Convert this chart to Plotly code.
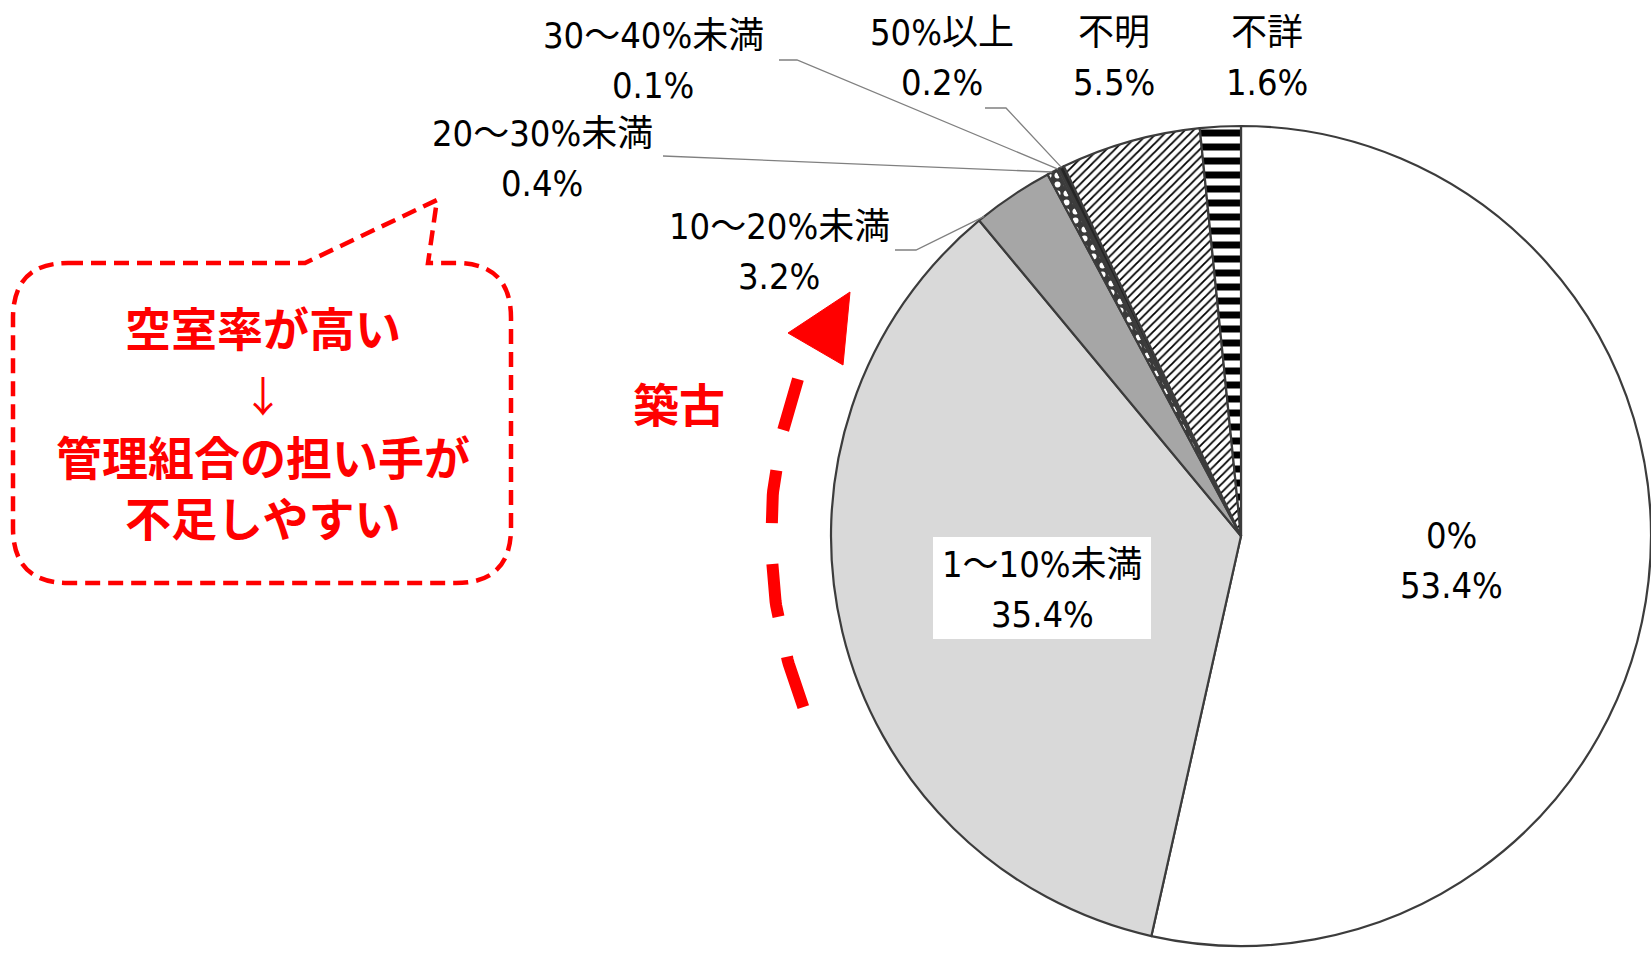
import math
import numpy as np
import plotly.graph_objects as go

W, H = 1651, 953

# ---------------- data ----------------
categories = ["0%", "1～10%未満", "10～20%未満", "20～30%未満",
              "30～40%未満", "50%以上", "不明", "不詳"]
shares = [53.4, 35.4, 3.2, 0.4, 0.1, 0.2, 5.5, 1.6]

slice_colors = ["#ffffff", "#d9d9d9", "#a6a6a6", "#3a3a3a",
                "#555555", "#262626", "#ffffff", "#ffffff"]
pattern_shapes = ["", "", "", ".", "", "", "/", "-"]
pattern_fg = ["#000000", "#000000", "#000000", "#ffffff",
              "#000000", "#000000", "#000000", "#000000"]
pattern_size = [8, 8, 8, 9, 8, 8, 6, 14]
pattern_solidity = [0.3, 0.3, 0.3, 0.35, 0.3, 0.3, 0.3, 0.5]

# label layout (pixel positions of the first text line)
label_pos = [(1451, 535), (1042, 564), (779, 226), (542, 133),
             (653, 35), (942, 32), (1114, 32), (1267, 32)]
# leader lines: (start x, y, elbow x, position inside slice) or None
leaders = [None, None,
           (895, 250, 916, 0.08),
           (663, 156, 663, 0.5),
           (779, 60, 797, 0.5),
           (985, 108, 1006, 0.5),
           None, None]

# ---------------- pie geometry ----------------
CX, CY, R = 1241, 536, 410
dom_x = [(CX - R) / W, min(1.0, (CX + R) / W)]
dom_y = [(H - CY - R) / H, (H - CY + R) / H]

total = sum(shares)
cum = np.concatenate([[0], np.cumsum(shares)]) / total


def edge_point(frac):
    th = 2 * math.pi * frac
    return CX + R * math.sin(th), CY - R * math.cos(th)


fig = go.Figure()

fig.add_trace(go.Pie(
    labels=categories, values=shares, sort=False, direction="clockwise",
    rotation=0, textinfo="none", hoverinfo="label+percent", showlegend=False,
    domain=dict(x=dom_x, y=dom_y),
    marker=dict(colors=slice_colors,
                line=dict(color="#3c3c3c", width=2.2),
                pattern=dict(shape=pattern_shapes, fgcolor=pattern_fg,
                             bgcolor=slice_colors, size=pattern_size,
                             solidity=pattern_solidity)),
))

# ---------------- red dashed arc ("築古") ----------------
arc_r = 470
a0, a1 = math.radians(19.5), math.radians(-21.5)
ang = np.linspace(a0, a1, 80)
arc_x = CX - arc_r * np.cos(ang)
arc_y = CY - arc_r * np.sin(ang)
fig.add_trace(go.Scatter(
    x=arc_x, y=arc_y, mode="lines", showlegend=False, hoverinfo="skip",
    line=dict(color="#ff0000", width=12, dash="53px,41px"),
    xaxis="x", yaxis="y"))

shapes = []
annotations = []

# arrow head
shapes.append(dict(type="path", xref="x", yref="y",
                   path="M 850,292 L 788,333 L 843,365 Z",
                   fillcolor="#ff0000", line=dict(color="#ff0000", width=1),
                   layer="above"))

# speech bubble
L_, Rr, T_, B_, rc = 13, 511, 263, 583, 55
bubble = (f"M {L_+rc},{T_} L 305,{T_} L 437,200 L 428,{T_} L {Rr-rc},{T_} "
          f"Q {Rr},{T_} {Rr},{T_+rc} L {Rr},{B_-rc} Q {Rr},{B_} {Rr-rc},{B_} "
          f"L {L_+rc},{B_} Q {L_},{B_} {L_},{B_-rc} L {L_},{T_+rc} "
          f"Q {L_},{T_} {L_+rc},{T_} Z")
shapes.append(dict(type="path", xref="x", yref="y", path=bubble,
                   line=dict(color="#ff0000", width=4.5, dash="15px,8px"),
                   fillcolor="rgba(0,0,0,0)", layer="above"))

# white box behind the 1～10% label
shapes.append(dict(type="rect", xref="x", yref="y", x0=933, x1=1151, y0=537, y1=639,
                   fillcolor="#ffffff", line=dict(width=0), layer="above"))

# leader lines
for i, ld in enumerate(leaders):
    if ld is None:
        continue
    sx, sy, ex, f = ld
    frac = cum[i] + f * (cum[i + 1] - cum[i])
    px, py = edge_point(frac)
    shapes.append(dict(type="path", xref="x", yref="y",
                       path=f"M {sx},{sy} L {ex},{sy} L {px:.1f},{py:.1f}",
                       line=dict(color="#808080", width=1.3), layer="above"))

# pie labels
lab_font = dict(family="Liberation Sans Narrow, DejaVu Sans Condensed, Noto Sans CJK JP",
                size=36, color="#000000")
for i, (cat, v) in enumerate(zip(categories, shares)):
    x, y = label_pos[i]
    annotations.append(dict(x=x, y=y, xref="x", yref="y", text=cat, showarrow=False,
                            font=lab_font, xanchor="center", yanchor="middle"))
    annotations.append(dict(x=x, y=y + 50, xref="x", yref="y", text=f"{v}%",
                            showarrow=False, font=lab_font,
                            xanchor="center", yanchor="middle"))

# red texts
red_bold = dict(family="Noto Sans CJK JP", size=46, color="#ff0000", weight=700)
annotations += [
    dict(x=263, y=326, text="<b>空室率が高い</b>", font=red_bold),
    dict(x=263, y=393, text="↓", font=dict(family="Noto Sans CJK JP", size=42,
                                           color="#ff0000")),
    dict(x=263, y=455, text="<b>管理組合の担い手が</b>", font=red_bold),
    dict(x=263, y=516, text="<b>不足しやすい</b>", font=red_bold),
    dict(x=679, y=402, text="<b>築古</b>", font=red_bold),
]
for a in annotations[-5:]:
    a.update(xref="x", yref="y", showarrow=False, xanchor="center", yanchor="middle")

fig.update_layout(
    width=W, height=H, margin=dict(l=0, r=0, t=0, b=0),
    paper_bgcolor="#ffffff", plot_bgcolor="#ffffff",
    xaxis=dict(range=[0, W], visible=False, fixedrange=True, domain=[0, 1]),
    yaxis=dict(range=[H, 0], visible=False, fixedrange=True, domain=[0, 1]),
    shapes=shapes, annotations=annotations, showlegend=False,
)

fig.write_html("out.html")
